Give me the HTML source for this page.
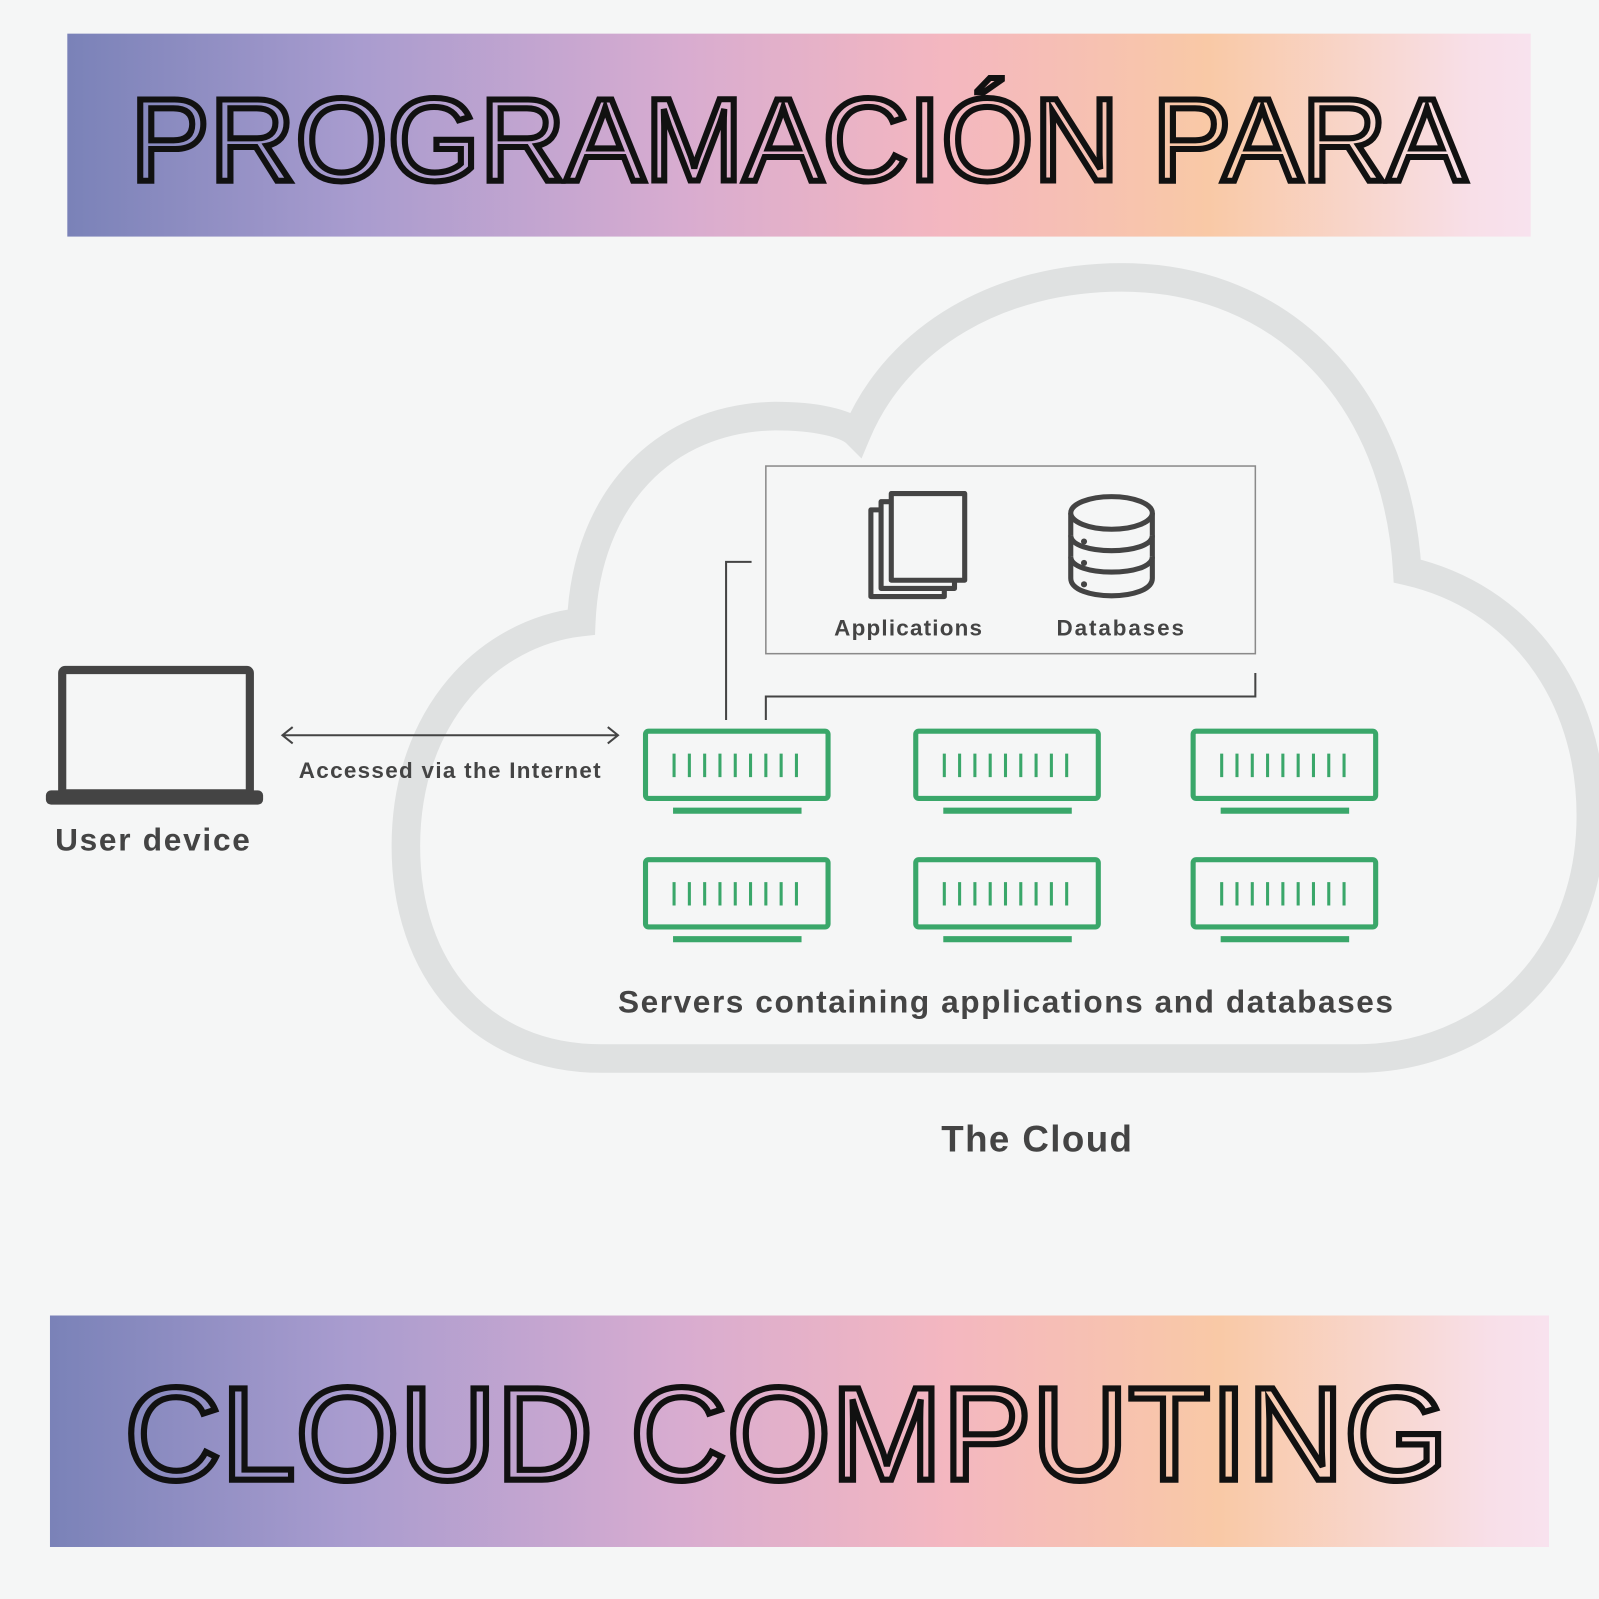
<!DOCTYPE html>
<html><head><meta charset="utf-8"><style>
html,body{margin:0;padding:0;background:#f5f6f6;}
svg{display:block;}
</style></head><body>
<svg width="1599" height="1599" viewBox="0 0 1568 1568" xmlns="http://www.w3.org/2000/svg">
<defs>
<linearGradient id="g" x1="0" x2="1" y1="0" y2="0">
<stop offset="0" stop-color="#7a82b8"/>
<stop offset="0.2" stop-color="#a99ccf"/>
<stop offset="0.42" stop-color="#d8acd0"/>
<stop offset="0.6" stop-color="#f4b7c0"/>
<stop offset="0.78" stop-color="#f9c9a6"/>
<stop offset="0.96" stop-color="#f8dfe8"/>
<stop offset="1" stop-color="#f8e2ee"/>
</linearGradient>
</defs>
<rect width="1568" height="1568" fill="#f5f6f6"/>
<rect x="66" y="33" width="1435" height="199" fill="url(#g)"/>
<rect x="49" y="1290" width="1470" height="227" fill="url(#g)"/>
<g font-family="Liberation Sans, sans-serif" fill="none" stroke="#111" stroke-width="6">
<text x="128" y="177" font-size="116" textLength="1310" lengthAdjust="spacingAndGlyphs">PROGRAMACIÓN PARA</text>
<text x="122" y="1451" font-size="130" textLength="1298" lengthAdjust="spacingAndGlyphs">CLOUD COMPUTING</text>
</g>
<path d="M590 1038 C470 1038 398 950 398 830 C398 700 480 620 570 610 C575 490 650 410 760 408 C800 408 830 415 840 425 C880 330 980 272 1100 272 C1260 272 1370 390 1380 560 C1490 585 1560 680 1560 800 C1560 940 1460 1038 1330 1038 Z" fill="none" stroke="#dfe1e1" stroke-width="28"/>
<rect x="751" y="457" width="480" height="184" fill="none" stroke="#8a8a8a" stroke-width="1.5"/>
<g fill="none" stroke="#444" stroke-width="2">
<path d="M737 551 H712 V706"/>
<path d="M751 706 V683 H1231 V660"/>
<path d="M277 721 H606 M287 713 L277 721 L287 729 M596 713 L606 721 L596 729"/>
</g>
<g fill="#f5f6f6" stroke="#444" stroke-width="5" stroke-linejoin="round">
<rect x="854" y="500" width="72" height="85"/>
<rect x="864" y="492" width="72" height="85"/>
<rect x="874" y="484" width="72" height="85"/>
<path d="M1050 503 V567 C1050 590 1130 590 1130 567 V503"/>
<path d="M1050 525 C1050 545 1130 545 1130 525 M1050 546 C1050 566 1130 566 1130 546" />
<ellipse cx="1090" cy="503" rx="40" ry="16"/>
</g>
<g fill="#444"><circle cx="1063" cy="531" r="3"/><circle cx="1063" cy="552" r="3"/><circle cx="1063" cy="573" r="3"/></g>
<g font-family="Liberation Sans, sans-serif" font-weight="bold" fill="#444" lengthAdjust="spacingAndGlyphs">
<text x="818" y="623" font-size="22" textLength="145">Applications</text>
<text x="1036" y="623" font-size="22" textLength="125">Databases</text>
<text x="293" y="763" font-size="22" textLength="296">Accessed via the Internet</text>
<text x="54" y="834" font-size="31" textLength="191">User device</text>
<text x="606" y="993" font-size="31" textLength="760">Servers containing applications and databases</text>
<text x="923" y="1129" font-size="36" textLength="187">The Cloud</text>
</g>
<rect x="61" y="657" width="184" height="121" fill="none" stroke="#444" stroke-width="8" rx="3"/>
<rect x="45" y="775" width="213" height="14" rx="5" fill="#444"/>
<g id="s" fill="none" stroke="#3aa76a" stroke-width="5">
<rect x="633" y="717" width="179" height="66" rx="3"/>
<path d="M660 795 H786" stroke-width="6"/>
<path d="M661 739 V762 M676 739 V762 M691 739 V762 M706 739 V762 M721 739 V762 M736 739 V762 M751 739 V762 M766 739 V762 M781 739 V762" stroke-width="3"/>
</g>
<use href="#s" x="265"/><use href="#s" x="537"/>
<use href="#s" y="126"/><use href="#s" x="265" y="126"/><use href="#s" x="537" y="126"/>
</svg>
</body></html>
